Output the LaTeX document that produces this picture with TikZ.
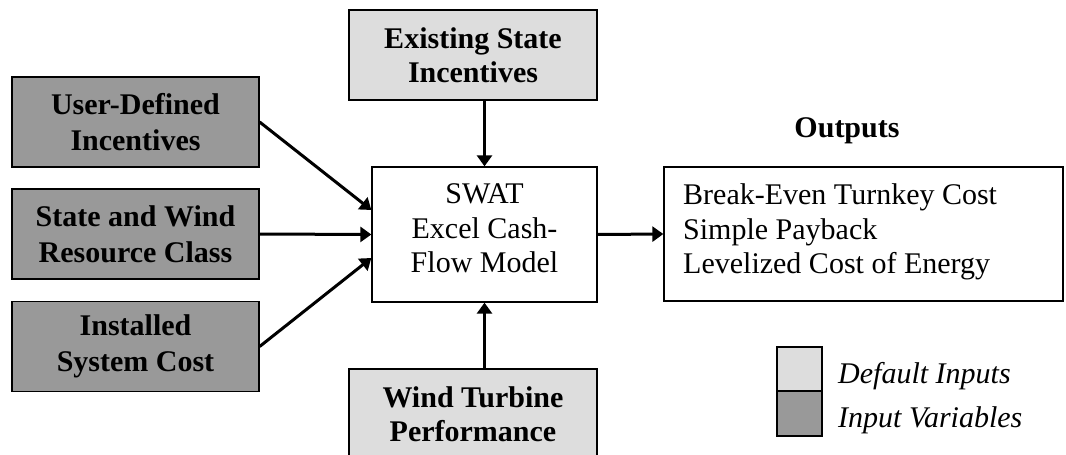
\documentclass[tikz,border=0pt]{standalone}
\usepackage{fontspec}
\setmainfont{Liberation Serif}
\usetikzlibrary{arrows.meta}
\definecolor{lightfill}{HTML}{DDDDDD}
\definecolor{darkfill}{HTML}{999999}
\tikzset{
  inbox/.style={draw, line width=1.3pt, inner sep=0pt, align=center,
    minimum width=247pt, minimum height=90pt,
    font=\fontsize{30}{36}\selectfont\bfseries},
  varbox/.style={inbox, fill=darkfill},
  defbox/.style={inbox, fill=lightfill, font=\fontsize{30}{34.5}\selectfont\bfseries},
  plainbox/.style={draw, line width=1.3pt, fill=white, inner sep=0pt},
  txt/.style={inner sep=0pt, font=\fontsize{30}{34.5}\selectfont},
  arr/.style={line width=3pt, -{Triangle[length=11pt,width=15pt]}},
  legbox/.style={draw, line width=1.3pt, inner sep=0pt, minimum width=45pt}
}
\begin{document}
\begin{tikzpicture}[x=1pt,y=-1pt]
\useasboundingbox (0,0) rectangle (1066,455);
\clip (0,0) rectangle (1066,455);
% input boxes
\node[varbox] (ud) at (135.5,122) {User-Defined\\Incentives};
\node[varbox] (sw) at (135.5,234) {State and Wind\\Resource Class};
\node[varbox] (ic) at (135.5,346.5) {Installed\\System Cost};
\node[defbox, minimum width=248pt] (es) at (473,55) {Existing State\\Incentives};
\node[defbox, minimum width=248pt] (wt) at (473,414) {Wind Turbine\\Performance};
% model box
\node[plainbox, minimum width=225pt, minimum height=135pt] (swat) at (484.5,234.5) {};
\node[txt, align=center, anchor=north] (swattxt) at (484.5,183.7) {SWAT\\Excel Cash-\\Flow Model};
% outputs
\node[plainbox, minimum width=399pt, minimum height=134pt] (out) at (863.5,234) {};
\node[txt, align=left, anchor=north west] (outtxt) at (683,183.5) {Break-Even Turnkey Cost\\Simple Payback\\Levelized Cost of Energy};
\node[txt, anchor=base, font=\fontsize{30}{34.5}\selectfont\bfseries] (outlbl) at (847,137) {Outputs};
% connectors
\draw[arr] (ud.east) -- ([yshift=24.5pt]swat.west);
\draw[arr] (sw.east) -- (swat.west);
\draw[arr] (ic.east) -- ([yshift=-23.5pt]swat.west);
\draw[arr] (swat.north |- es.south) -- (swat.north);
\draw[arr] (swat.south |- wt.north) -- (swat.south);
\draw[arr] (swat.east) -- (out.west);
% legend
\node[legbox, fill=lightfill, minimum height=44pt] (legdef) at (799.5,369) {};
\node[legbox, fill=darkfill, minimum height=45pt] (legvar) at (799.5,413.5) {};
\node[txt, anchor=base west, font=\fontsize{30}{34.5}\selectfont\itshape] (legdeftxt) at (838,383) {Default Inputs};
\node[txt, anchor=base west, font=\fontsize{30}{34.5}\selectfont\itshape] (legvartxt) at (838,427) {Input Variables};
\end{tikzpicture}
\end{document}
